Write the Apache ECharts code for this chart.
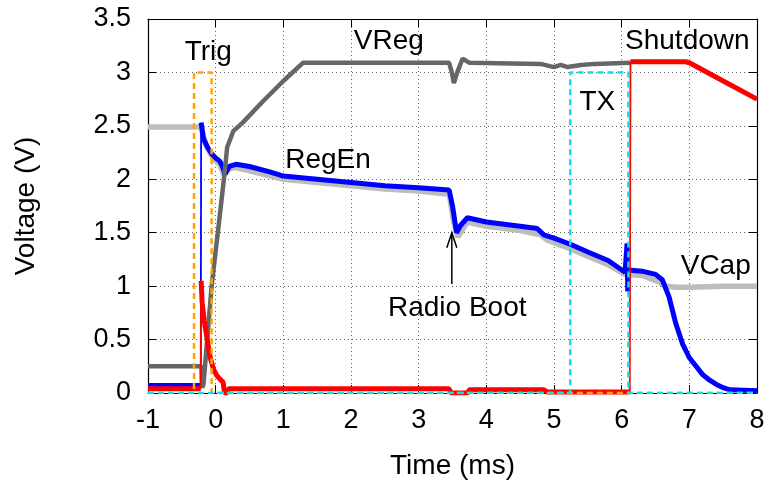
<!DOCTYPE html>
<html>
<head>
<meta charset="utf-8">
<script src="https://cdn.jsdelivr.net/npm/echarts@6/dist/echarts.min.js"></script>
<style>
html,body{margin:0;padding:0;background:#fff;}
#c{width:772px;height:485px;}
</style>
</head>
<body>
<div id="c"></div>
<script>
// ---- data (time in ms, voltage in V) ----
const xTicks = [-1, 0, 1, 2, 3, 4, 5, 6, 7, 8];
const yTicks = [0, 0.5, 1, 1.5, 2, 2.5, 3, 3.5];

const vcapT = [-1, -0.22, -0.21, -0.15, -0.08, 0.0, 0.06, 0.12, 0.2, 0.3, 0.5, 1.0, 1.5, 2.0, 2.5, 3.0, 3.45, 3.52, 3.58, 3.72, 4.0, 4.5, 4.8, 4.9, 5.2, 5.5, 5.8, 6.05, 6.3, 6.55, 6.65, 6.8, 7.0, 7.5, 8.0];
const vcapV = [2.49, 2.49, 2.47, 2.33, 2.24, 2.17, 2.14, 2.04, 2.10, 2.11, 2.08, 2.00, 1.97, 1.94, 1.91, 1.89, 1.86, 1.60, 1.46, 1.60, 1.56, 1.52, 1.48, 1.43, 1.36, 1.28, 1.20, 1.11, 1.10, 1.04, 1.00, 0.99, 0.99, 1.00, 1.00];

const regEnT = [-1, -0.22, -0.215, -0.18, -0.12, -0.06, 0.0, 0.06, 0.1, 0.14, 0.2, 0.3, 0.5, 0.8, 1.0, 1.5, 2.0, 2.5, 3.0, 3.45, 3.5, 3.56, 3.62, 3.72, 4.0, 4.5, 4.75, 4.85, 5.0, 5.25, 5.5, 5.8, 6.05, 6.07, 6.08, 6.09, 6.1, 6.3, 6.5, 6.6, 6.7, 6.8, 6.9, 7.0, 7.1, 7.2, 7.3, 7.4, 7.5, 7.6, 8.0];
const regEnV = [0.07, 0.07, 2.53, 2.38, 2.30, 2.24, 2.20, 2.17, 2.12, 2.05, 2.12, 2.14, 2.12, 2.07, 2.03, 2.00, 1.97, 1.94, 1.92, 1.90, 1.75, 1.50, 1.57, 1.64, 1.60, 1.56, 1.54, 1.48, 1.45, 1.39, 1.32, 1.24, 1.13, 1.12, 1.40, 0.95, 1.15, 1.14, 1.11, 1.06, 0.90, 0.65, 0.46, 0.33, 0.25, 0.17, 0.12, 0.08, 0.05, 0.03, 0.02];

const vregT = [-1, -0.21, -0.2, -0.18, -0.06, 0.05, 0.13, 0.17, 0.26, 0.4, 0.7, 1.0, 1.29, 1.5, 3.45, 3.49, 3.52, 3.57, 3.65, 3.75, 4.8, 5.0, 5.1, 5.2, 5.4, 5.6, 6.13];
const vregV = [0.25, 0.25, 0.05, 0.08, 1.00, 1.60, 2.05, 2.30, 2.45, 2.53, 2.73, 2.92, 3.09, 3.09, 3.09, 3.00, 2.90, 3.00, 3.13, 3.09, 3.08, 3.05, 3.07, 3.05, 3.07, 3.08, 3.09];

const shutdownT = [-1, -0.22, -0.215, -0.2, -0.17, -0.13, -0.08, -0.03, 0.02, 0.08, 0.11, 0.13, 0.17, 0.19, 3.45, 3.48, 3.72, 3.75, 4.85, 4.9, 6.12, 6.13, 6.95, 7.0, 7.5, 8.0];
const shutdownV = [0.04, 0.04, 1.05, 0.85, 0.68, 0.52, 0.33, 0.22, 0.16, 0.12, 0.10, 0.00, 0.00, 0.04, 0.04, 0.00, 0.00, 0.03, 0.03, 0.01, 0.01, 3.10, 3.10, 3.09, 2.92, 2.75];

const trigT = [-1, -0.32, -0.32, -0.06, -0.06, 8];
const trigV = [0, 0, 3, 3, 0, 0];

const txT = [-1, 5.24, 5.24, 6.10, 6.10, 8];
const txV = [0, 0, 3, 3, 0, 0];

const labelTexts = ['Trig', 'VReg', 'Shutdown', 'TX', 'RegEn', 'Radio Boot', 'VCap'];
const labelT = [-0.11, 2.56, 6.97, 5.64, 1.66, 3.57, 7.39];
const labelV = [3.19, 3.29, 3.29, 2.72, 2.18, 0.79, 1.19];

const arrowT = [3.49, 3.49];
const arrowV = [1.02, 1.50];

// ---- chart ----
const FONT = '"Liberation Sans", Arial, Helvetica, sans-serif';
const JUMP = 0.8; // a near-vertical step is drawn as a thin trace

// split a trace into the thick (noisy band) parts and the thin steep steps
function splitTrace(t, v) {
  const thick = [], thin = [];
  for (let i = 0; i < t.length; i++) {
    if (i > 0 && Math.abs(v[i] - v[i - 1]) > JUMP && (t[i] - t[i - 1]) < 0.02) {
      thick.push([t[i], '-']);
      thin.push([t[i - 1], v[i - 1]], [t[i], v[i]], [t[i], '-']);
    }
    thick.push([t[i], v[i]]);
  }
  return {thick, thin};
}

const chart = echarts.init(document.getElementById('c'), null, {renderer: 'canvas'});

const gridLine = {show: true, lineStyle: {color: '#666', width: 1, type: [1, 3]}};
const axLine = {show: true, onZero: false, lineStyle: {color: '#000', width: 1.2}};
const tick = {show: true, inside: true, length: 8, lineStyle: {color: '#000', width: 1}};

function mk(name, data, color, width, z, dash) {
  return {
    name: name, type: 'line', data: data, showSymbol: false, symbol: 'none', connectNulls: false,
    lineStyle: {color: color, width: width, type: dash || 'solid'},
    z: z, animation: false, silent: true
  };
}
function trace(name, t, v, color, width, z) {
  const s = splitTrace(t, v);
  return [mk(name, s.thick, color, width, z), mk(name, s.thin, color, 1.8, z)];
}

const series = [].concat(
  trace('VCap', vcapT, vcapV, '#bdbdbd', 5.5, 2),
  trace('RegEn', regEnT, regEnV, '#0000ff', 5, 3),
  trace('VReg', vregT, vregV, '#666666', 4.5, 4),
  trace('Shutdown', shutdownT, shutdownV, '#ff0000', 5, 5),
  [mk('Trig', trigT.map((x, i) => [x, trigV[i]]), '#ffa500', 2.5, 6, [6, 4]),
   mk('TX', txT.map((x, i) => [x, txV[i]]), '#00e5f0', 2.5, 7, [6, 4])]
);

const option = {
  animation: false,
  backgroundColor: '#fff',
  grid: {left: 148, right: 15, top: 19, bottom: 91},
  xAxis: [
    {type: 'value', min: xTicks[0], max: xTicks[xTicks.length - 1], interval: 1, position: 'bottom',
     axisLine: axLine, axisTick: tick, splitLine: gridLine,
     axisLabel: {fontSize: 27, color: '#000', fontFamily: FONT, margin: 14},
     name: 'Time (ms)', nameLocation: 'middle', nameGap: 59,
     nameTextStyle: {fontSize: 28, color: '#000', fontFamily: FONT}},
    {type: 'value', min: xTicks[0], max: xTicks[xTicks.length - 1], interval: 1, position: 'top',
     axisLine: axLine, axisTick: tick, splitLine: {show: false}, axisLabel: {show: false}}
  ],
  yAxis: [
    {type: 'value', min: yTicks[0], max: yTicks[yTicks.length - 1], interval: 0.5, position: 'left',
     axisLine: axLine, axisTick: tick, splitLine: gridLine,
     axisLabel: {fontSize: 27, color: '#000', fontFamily: FONT, margin: 17},
     name: 'Voltage (V)', nameLocation: 'middle', nameGap: 108,
     nameTextStyle: {fontSize: 28, color: '#000', fontFamily: FONT}},
    {type: 'value', min: yTicks[0], max: yTicks[yTicks.length - 1], interval: 0.5, position: 'right',
     axisLine: axLine, axisTick: tick, splitLine: {show: false}, axisLabel: {show: false}}
  ],
  series: series
};
chart.setOption(option);

// annotations placed through the axes' own scale
const graphics = [];
labelTexts.forEach((txt, i) => {
  const p = chart.convertToPixel({xAxisIndex: 0, yAxisIndex: 0}, [labelT[i], labelV[i]]);
  graphics.push({type: 'text', x: p[0], y: p[1], z: 20,
    style: {text: txt, fontSize: 28, fontFamily: FONT, fill: '#000', textAlign: 'center', textVerticalAlign: 'middle'}});
});
const a0 = chart.convertToPixel({xAxisIndex: 0, yAxisIndex: 0}, [arrowT[0], arrowV[0]]);
const a1 = chart.convertToPixel({xAxisIndex: 0, yAxisIndex: 0}, [arrowT[1], arrowV[1]]);
graphics.push({type: 'line', z: 20, shape: {x1: a0[0], y1: a0[1], x2: a1[0], y2: a1[1]}, style: {stroke: '#000', lineWidth: 1.5}});
graphics.push({type: 'polyline', z: 20, shape: {points: [[a1[0] - 5, a1[1] + 15], [a1[0], a1[1]], [a1[0] + 5, a1[1] + 15]]}, style: {stroke: '#000', lineWidth: 1.5, fill: null}});
chart.setOption({graphic: graphics});
</script>
</body>
</html>
